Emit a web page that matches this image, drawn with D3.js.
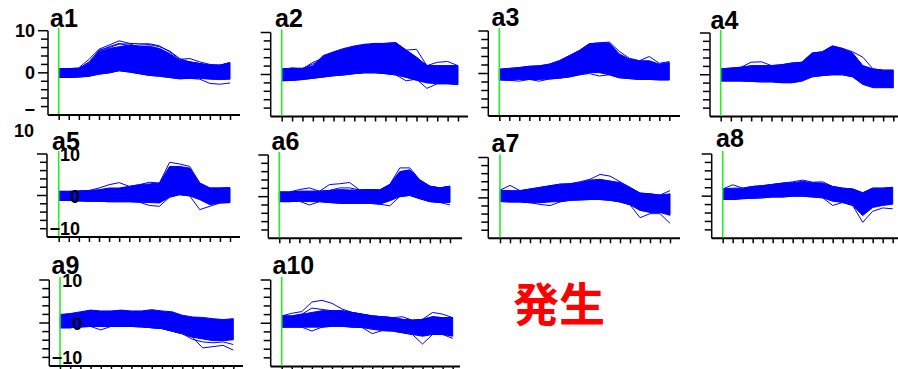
<!DOCTYPE html>
<html>
<head>
<meta charset="utf-8">
<script src="https://cdn.jsdelivr.net/npm/d3@7"></script>
<style>
  html, body { margin: 0; padding: 0; background: #fff; }
  svg { display: block; }
</style>
</head>
<body>
<div id="chart"></div>
<script>
// time points along each profile
const timePoints = [0, 1, 2, 3, 4, 5, 6, 7, 8, 9, 10, 11, 12, 13, 14, 15, 16, 17];
const panelNames = ['a1', 'a2', 'a3', 'a4', 'a5', 'a6', 'a7', 'a8', 'a9', 'a10'];
const yTickValues = [10, 8, 6, 4, 2, 0, -2, -4, -6, -8];
const yLabelValues = [10, 0, -10];
const yLabelTexts = ['10', '0', '−10'];
const note = '発生';

// dense band (upper / lower envelope) and stray profiles, per cluster
const a1Upper = [1.0, 1.0, 1.0, 2.2, 5.0, 5.8, 6.2, 6.6, 6.3, 6.2, 5.8, 4.6, 3.0, 2.6, 2.2, 1.8, 1.8, 2.4];
const a1Lower = [-1.1, -1.1, -1.0, -0.8, -0.3, 0.0, 0.5, 0.2, -0.2, -0.6, -0.8, -1.1, -1.4, -1.3, -1.3, -1.5, -1.6, -1.5];
const a1Strays = [
  [1.0, 1.0, 1.2, 3.2, 5.6, 6.6, 7.6, 7.0, 6.9, 6.9, 6.4, 5.0, 3.2, 3.4, 2.6, 2.0, 1.8, 2.4],
  [1.0, 1.0, 1.0, 2.6, 5.2, 6.2, 7.0, 6.4, 6.6, 6.7, 6.2, 5.2, 3.4, 2.6, 2.2, 1.8, 1.8, 2.4],
  [1.0, 1.0, 1.0, 2.4, 5.4, 6.0, 6.8, 6.9, 6.1, 6.4, 5.6, 4.2, 3.0, 2.6, 2.2, 1.8, 1.8, 2.4],
  [-1.1, -1.1, -1.0, -0.8, -0.3, 0.0, 0.5, 0.2, -0.2, -0.6, -0.8, -1.1, -1.4, -1.3, -1.5, -2.5, -2.7, -2.4]
];

const a2Upper = [1.3, 1.5, 1.5, 2.1, 4.5, 5.4, 6.2, 6.8, 7.2, 7.4, 7.4, 7.6, 5.8, 4.1, 2.1, 2.1, 2.1, 2.1];
const a2Lower = [-1.5, -1.4, -1.2, -0.9, -0.6, -0.3, -0.1, 0.2, 0.4, 0.4, 0.2, -0.1, -0.7, -1.4, -2.0, -2.2, -2.2, -2.4];
const a2Strays = [
  [1.3, 1.5, 1.3, 2.9, 3.8, 4.8, 5.8, 6.6, 7.0, 7.3, 7.4, 7.5, 5.8, 6.0, 2.1, 2.9, 3.1, 2.1],
  [1.3, 1.5, 1.4, 2.5, 3.4, 4.6, 5.5, 6.2, 7.0, 7.3, 7.4, 7.5, 5.8, 4.1, 2.1, 2.1, 2.1, 2.1],
  [-1.5, -1.4, -1.2, -0.9, -0.6, -0.3, -0.1, 0.2, 0.4, 0.4, 0.2, -0.1, -1.5, -1.1, -3.3, -2.2, -2.2, -2.4]
];

const a3Upper = [1.0, 1.2, 1.4, 1.7, 1.8, 2.2, 3.0, 4.2, 5.4, 7.0, 7.2, 7.2, 4.6, 3.4, 3.0, 3.0, 2.2, 2.6];
const a3Lower = [-1.5, -1.6, -1.4, -1.4, -1.4, -1.3, -1.1, -0.8, -0.3, 0.2, 0.2, -0.3, -1.0, -1.2, -1.4, -1.4, -1.5, -1.5];
const a3Strays = [
  [1.0, 1.2, 1.4, 1.7, 1.8, 2.2, 3.0, 4.2, 5.4, 7.0, 7.2, 7.4, 5.2, 3.6, 3.0, 4.0, 2.4, 2.8],
  [-1.5, -1.6, -1.8, -1.4, -1.8, -1.3, -1.1, -0.8, -0.3, 0.0, -0.6, -0.3, -1.0, -1.2, -1.4, -1.4, -1.5, -1.5]
];

const a4Upper = [1.4, 1.6, 1.8, 2.2, 2.2, 2.2, 2.4, 2.8, 3.0, 5.2, 5.5, 6.9, 6.3, 5.2, 2.2, 1.4, 1.1, 1.1];
const a4Lower = [-1.5, -1.5, -1.5, -1.6, -1.7, -1.7, -1.9, -1.9, -1.5, -0.5, -0.2, 0.0, 0.0, -0.5, -2.3, -3.1, -3.1, -3.1];
const a4Strays = [
  [1.4, 1.6, 1.8, 3.0, 3.1, 2.2, 2.4, 2.8, 3.0, 5.2, 5.5, 6.9, 6.3, 5.5, 4.2, 1.4, 1.1, 1.1],
  [-1.5, -1.5, -1.5, -1.6, -1.7, -1.7, -1.9, -1.9, -1.5, -0.5, -0.2, 0.0, 0.0, -0.5, -2.3, -2.7, -2.9, -3.1]
];

const a5Upper = [1.0, 1.0, 1.1, 1.2, 1.4, 1.8, 1.8, 2.2, 2.6, 2.8, 3.0, 7.0, 7.0, 6.6, 3.0, 1.8, 1.8, 1.9];
const a5Lower = [-1.2, -1.2, -1.3, -1.4, -1.4, -1.5, -1.5, -1.5, -1.6, -1.7, -1.8, -0.4, 0.2, -0.1, -1.0, -2.2, -1.8, -1.7];
const a5Strays = [
  [1.0, 1.0, 1.1, 1.2, 1.8, 2.6, 3.1, 2.2, 2.6, 3.2, 3.0, 8.0, 7.6, 7.0, 3.0, 1.8, 1.8, 1.9],
  [-1.2, -1.2, -1.3, -1.4, -1.4, -1.5, -1.5, -1.5, -1.6, -2.4, -2.6, -0.4, 0.2, -0.1, -3.4, -2.6, -1.8, -1.7]
];

const a6Upper = [1.1, 1.1, 1.3, 1.3, 1.3, 1.5, 1.7, 1.6, 1.6, 1.7, 1.6, 2.9, 6.0, 6.4, 4.0, 2.5, 2.1, 2.5];
const a6Lower = [-1.2, -1.2, -1.1, -1.2, -1.2, -1.4, -1.6, -1.6, -1.6, -1.6, -1.8, -1.0, 0.0, 0.3, -0.5, -1.2, -1.4, -1.4];
const a6Strays = [
  [1.1, 1.1, 1.7, 2.1, 1.3, 2.9, 3.1, 3.4, 1.6, 1.7, 1.6, 2.9, 6.9, 6.9, 4.0, 2.5, 2.1, 2.5],
  [1.1, 1.1, 1.3, 1.3, 1.3, 1.5, 2.1, 2.1, 1.6, 1.7, 1.6, 2.9, 6.0, 6.4, 4.0, 2.5, 2.1, 2.5],
  [-1.2, -1.2, -1.1, -2.0, -1.2, -1.4, -1.6, -1.6, -1.6, -1.6, -1.8, -2.2, 0.0, 0.3, -0.5, -1.2, -1.4, -2.0]
];

const a7Upper = [1.9, 1.8, 1.8, 2.2, 2.6, 3.0, 3.4, 3.5, 3.8, 4.4, 4.6, 4.2, 3.8, 2.6, 1.2, 1.0, 0.7, 1.0];
const a7Lower = [-0.9, -1.0, -1.0, -1.2, -1.2, -1.0, -0.9, -0.6, -0.5, -0.4, -0.4, -0.6, -1.0, -1.7, -3.1, -3.6, -3.6, -4.3];
const a7Strays = [
  [1.9, 3.1, 1.8, 2.2, 2.6, 3.0, 3.4, 3.5, 4.0, 4.6, 5.8, 5.4, 4.0, 2.6, 1.2, 1.0, 0.7, 1.8],
  [-0.9, -1.0, -1.0, -1.2, -1.6, -1.9, -1.0, -0.6, -0.5, -0.4, -0.4, -0.6, -1.0, -1.7, -4.9, -3.9, -3.9, -6.3]
];

const a8Upper = [1.7, 1.9, 1.9, 2.3, 2.5, 2.8, 3.1, 3.2, 3.5, 3.2, 3.1, 2.3, 1.9, 1.7, 0.8, 1.9, 1.9, 2.1];
const a8Lower = [-0.8, -0.8, -0.6, -0.5, -0.4, -0.2, -0.2, 0.0, 0.0, -0.2, -0.4, -1.2, -1.5, -2.2, -4.6, -2.7, -2.2, -1.9];
const a8Strays = [
  [1.7, 2.7, 1.9, 2.3, 2.5, 2.8, 3.1, 3.4, 3.8, 3.3, 3.4, 2.3, 1.9, 1.7, 0.8, 1.9, 1.9, 2.1],
  [-0.8, -0.8, -0.6, -0.5, -0.4, -0.2, -0.2, 0.0, 0.0, -0.2, -0.4, -2.2, -1.5, -2.2, -6.2, -3.6, -2.8, -3.0]
];

const a9Upper = [2.0, 2.2, 2.6, 3.0, 2.8, 2.8, 3.0, 2.8, 2.8, 3.1, 2.8, 2.6, 1.8, 1.4, 1.3, 1.0, 0.8, 1.0];
const a9Lower = [-1.1, -1.1, -0.9, -0.8, -0.8, -0.8, -0.8, -0.8, -0.9, -1.1, -1.3, -1.9, -2.5, -3.3, -3.7, -4.1, -4.1, -3.9];
const a9Strays = [
  [-1.1, -1.1, -0.9, -0.8, -1.6, -0.8, -0.8, -0.8, -0.9, -1.1, -1.3, -1.9, -2.5, -3.3, -5.8, -5.5, -5.2, -6.3],
  [-1.1, -1.1, -0.9, -0.8, -0.8, -0.8, -0.8, -0.8, -0.9, -1.1, -1.3, -1.9, -2.5, -3.8, -4.4, -4.6, -4.4, -5.0]
];

const a10Upper = [1.7, 1.7, 2.1, 2.5, 2.9, 2.9, 2.9, 2.5, 2.1, 1.7, 1.5, 1.3, 0.9, 0.7, 0.9, 1.5, 1.3, 1.3];
const a10Lower = [-0.9, -0.9, -0.9, -0.9, -0.9, -0.7, -0.7, -0.9, -1.0, -1.4, -1.7, -1.8, -2.2, -2.6, -3.0, -2.6, -2.6, -3.0];
const a10Strays = [
  [1.7, 2.3, 2.7, 4.9, 5.3, 4.6, 3.3, 2.5, 2.1, 1.7, 1.5, 1.3, 1.5, 0.7, 0.9, 2.5, 2.1, 1.3],
  [1.7, 1.7, 2.1, 3.5, 3.2, 2.9, 2.9, 2.5, 2.1, 1.7, 1.5, 1.3, 0.9, 0.7, 0.9, 1.5, 1.3, 1.3],
  [-0.9, -0.9, -0.9, -1.8, -0.9, -0.7, -0.7, -0.9, -1.0, -2.4, -1.7, -1.8, -2.2, -2.6, -4.8, -2.6, -2.6, -3.5]
];

const uppers = [a1Upper, a2Upper, a3Upper, a4Upper, a5Upper, a6Upper, a7Upper, a8Upper, a9Upper, a10Upper];
const lowers = [a1Lower, a2Lower, a3Lower, a4Lower, a5Lower, a6Lower, a7Lower, a8Lower, a9Lower, a10Lower];
const strays = [a1Strays, a2Strays, a3Strays, a4Strays, a5Strays, a6Strays, a7Strays, a8Strays, a9Strays, a10Strays];

// where each small panel sits on the page
const layout = [
  {axisX: 48, x0: 58.7, x17: 230, axisEnd: 240, yTop: 30.7, yBot: 115, titleX: 50, titleY: 27, labels: 'left'},
  {axisX: 270.7, x0: 281.7, x17: 458, axisEnd: 468, yTop: 32.5, yBot: 116.5, titleX: 275, titleY: 27},
  {axisX: 488.3, x0: 499.3, x17: 669.3, axisEnd: 680, yTop: 31, yBot: 116, titleX: 491.5, titleY: 25.5},
  {axisX: 710, x0: 720.7, x17: 893.3, axisEnd: 905, yTop: 33, yBot: 116.5, titleX: 710.5, titleY: 28.5},
  {axisX: 47, x0: 58.7, x17: 230, axisEnd: 240, yTop: 154, yBot: 237, titleX: 52, titleY: 150, labels: 'inside'},
  {axisX: 268.3, x0: 279.3, x17: 450, axisEnd: 462, yTop: 155, yBot: 238.3, titleX: 271.5, titleY: 150},
  {axisX: 488.3, x0: 500, x17: 670, axisEnd: 680, yTop: 157.5, yBot: 238.3, titleX: 491.5, titleY: 151.5},
  {axisX: 711.7, x0: 722.7, x17: 892.7, axisEnd: 905, yTop: 154, yBot: 238.3, titleX: 716, titleY: 146.5},
  {axisX: 49.3, x0: 60, x17: 233.3, axisEnd: 243, yTop: 280, yBot: 366, titleX: 51.5, titleY: 273.5, labels: 'inside'},
  {axisX: 270.7, x0: 281.7, x17: 452.7, axisEnd: 460, yTop: 280, yBot: 366.5, titleX: 272.5, titleY: 274}
];

const width = 898;
const height = 369;
const blue = '#0000ff';
const green = '#22ee22';
const font = '"Liberation Sans", Arial, sans-serif';

const svg = d3.select('#chart').append('svg')
  .attr('width', width)
  .attr('height', height);

panelNames.forEach((name, i) => {
  const p = layout[i];
  const x = d3.scaleLinear().domain([timePoints[0], timePoints[timePoints.length - 1]]).range([p.x0, p.x17]);
  const y = d3.scaleLinear().domain([-10, 10]).range([p.yBot, p.yTop]);
  const g = svg.append('g').attr('class', 'panel ' + name);

  // dense bundle of profiles
  const band = d3.area()
    .x((d, k) => x(timePoints[k]))
    .y0((d, k) => y(lowers[i][k]))
    .y1((d) => y(d));

  g.append('path')
    .datum(uppers[i])
    .attr('d', band)
    .attr('fill', blue)
    .attr('stroke', blue)
    .attr('stroke-width', 1);

  const line = d3.line()
    .x((d, k) => x(timePoints[k]))
    .y((d) => y(d));

  g.selectAll('.stray')
    .data(strays[i])
    .enter().append('path')
    .attr('class', 'stray')
    .attr('d', line)
    .attr('fill', 'none')
    .attr('stroke', blue)
    .attr('stroke-width', 1);

  // y axis: long ticks at 10 and 0, short ones between
  g.append('line')
    .attr('x1', p.axisX).attr('x2', p.axisX)
    .attr('y1', y(10)).attr('y2', p.yBot)
    .attr('stroke', '#000').attr('stroke-width', 1.5);

  g.selectAll('.ytick')
    .data(yTickValues)
    .enter().append('line')
    .attr('class', 'ytick')
    .attr('x1', (d) => p.axisX - (d % 10 === 0 ? 10 : 7))
    .attr('x2', p.axisX)
    .attr('y1', (d) => y(d))
    .attr('y2', (d) => y(d))
    .attr('stroke', '#000').attr('stroke-width', 1.5);

  // x axis
  const xAxis = d3.axisBottom(x)
    .tickValues(timePoints)
    .tickSize(5)
    .tickSizeOuter(0)
    .tickFormat('');

  const ax = g.append('g')
    .attr('transform', 'translate(0,' + p.yBot + ')')
    .call(xAxis);
  ax.select('.domain').remove();
  ax.selectAll('line').attr('stroke', '#000').attr('stroke-width', 1.5);

  g.append('line')
    .attr('x1', p.axisX).attr('x2', p.axisEnd)
    .attr('y1', p.yBot).attr('y2', p.yBot)
    .attr('stroke', '#000').attr('stroke-width', 2);

  // start marker
  g.append('line')
    .attr('x1', x(timePoints[0])).attr('x2', x(timePoints[0]))
    .attr('y1', y(10) - 3).attr('y2', p.yBot - 1)
    .attr('stroke', green).attr('stroke-width', 1.6);

  g.append('text')
    .attr('x', p.titleX)
    .attr('y', p.titleY)
    .style('font-family', font)
    .style('font-weight', 'bold')
    .style('font-size', '25px')
    .attr('fill', '#000')
    .text(name);

  if (p.labels === 'left') {
    yLabelValues.forEach((v, k) => {
      if (v === -10) {
        // the bottom label is broken over two lines in the original
        g.append('text')
          .attr('x', p.axisX - 13).attr('y', y(v) + 1)
          .attr('text-anchor', 'end')
          .style('font-family', font).style('font-weight', 'bold').style('font-size', '18px')
          .text(yLabelTexts[k].slice(0, 1));
        g.append('text')
          .attr('x', p.axisX - 14).attr('y', y(v) + 22)
          .attr('text-anchor', 'end')
          .style('font-family', font).style('font-weight', 'bold').style('font-size', '18px')
          .text(yLabelTexts[k].slice(1));
      } else {
        g.append('text')
          .attr('x', p.axisX - 13).attr('y', y(v) + 6)
          .attr('text-anchor', 'end')
          .style('font-family', font).style('font-weight', 'bold').style('font-size', '18px')
          .text(yLabelTexts[k]);
      }
    });
  } else if (p.labels === 'inside') {
    g.selectAll('.ylabel')
      .data(yLabelValues)
      .enter().append('text')
      .attr('class', 'ylabel')
      .attr('x', p.axisX + 33)
      .attr('y', (d) => Math.min(y(d) + 7, p.yBot - 2))
      .attr('text-anchor', 'end')
      .style('font-family', font).style('font-weight', 'bold').style('font-size', '18px')
      .text((d, k) => yLabelTexts[k]);
  }
});

svg.append('text')
  .attr('x', 513)
  .attr('y', 321)
  .style('font-family', '"Noto Sans CJK JP", "Noto Sans CJK SC", sans-serif')
  .style('font-weight', 'bold')
  .style('font-size', '46px')
  .attr('fill', '#ff0000')
  .text(note);
</script>
</body>
</html>
